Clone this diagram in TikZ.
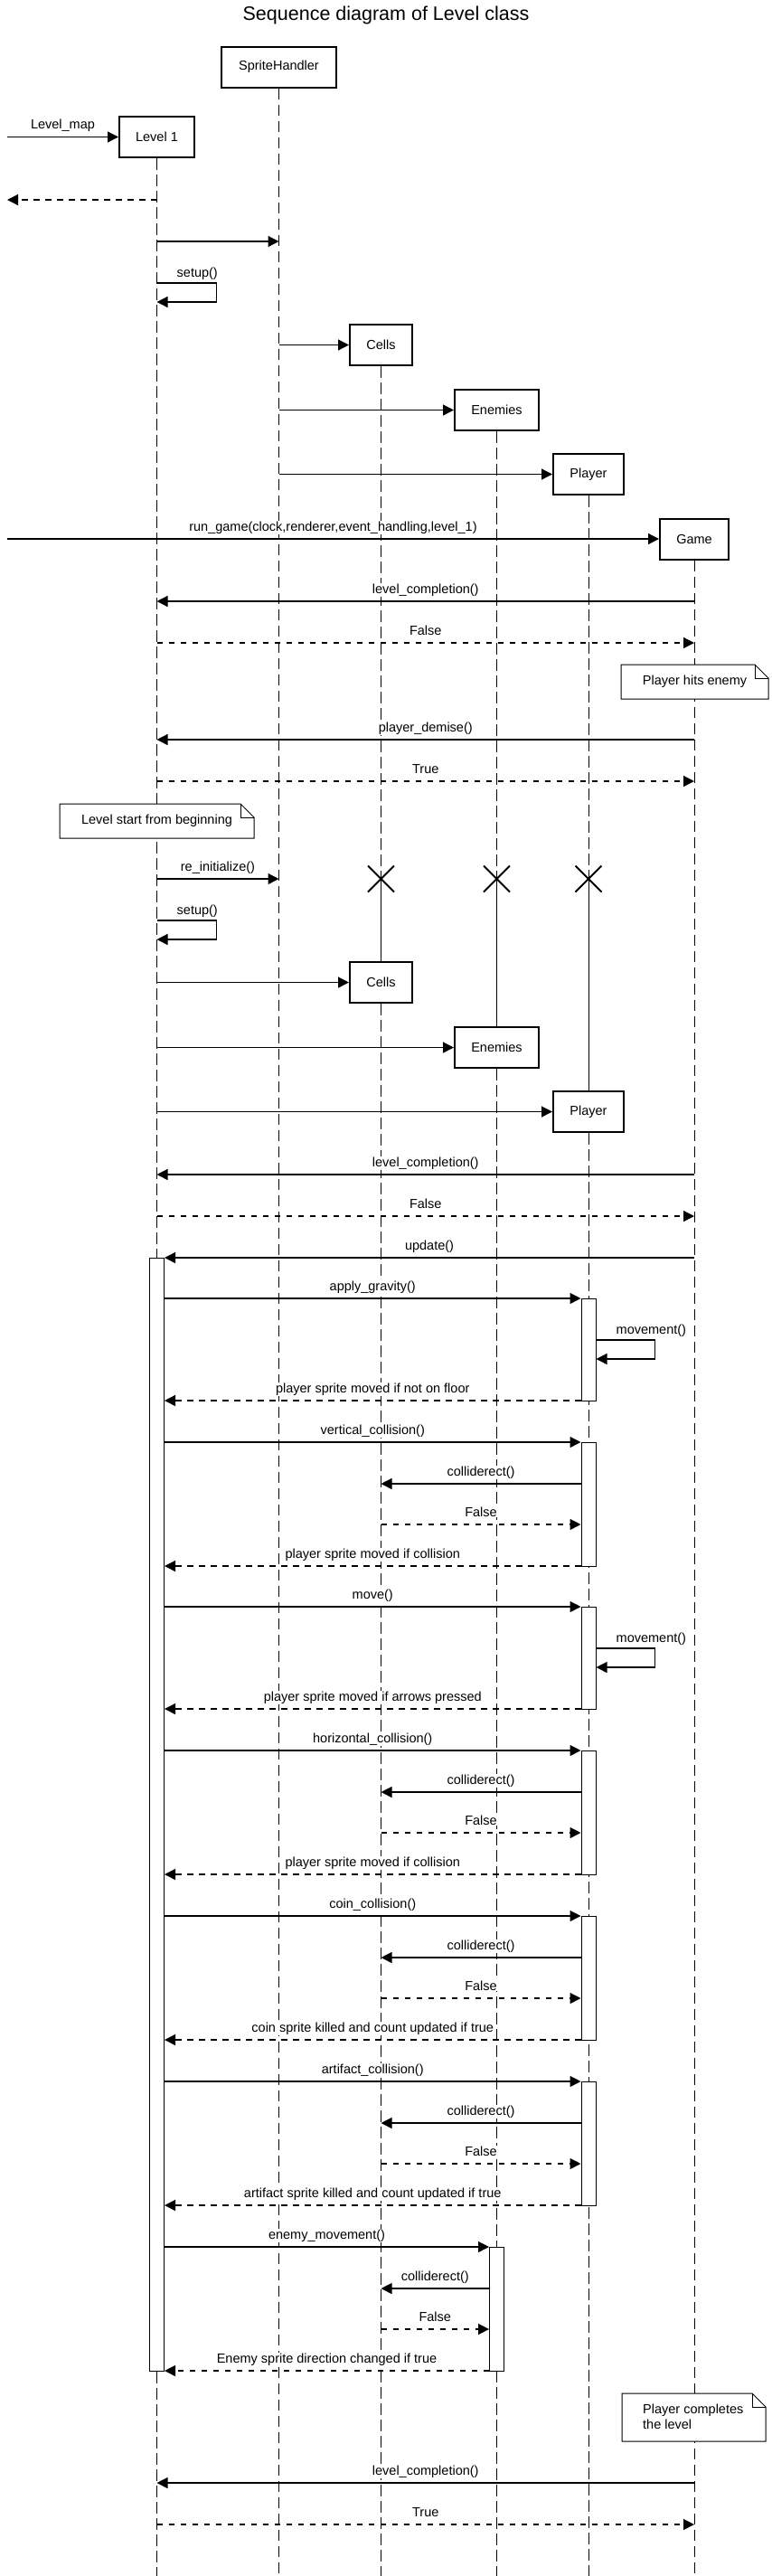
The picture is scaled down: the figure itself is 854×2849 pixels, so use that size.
\documentclass[tikz,border=0pt]{standalone}
\usepackage{fontspec}
\setmainfont{Liberation Sans}
\usetikzlibrary{arrows.meta}

\begin{document}
\begin{tikzpicture}[x=1pt,y=-1pt,
    font=\fontsize{14.5}{17}\selectfont,
    obj/.style={draw,line width=2pt,fill=white,minimum height=45pt,inner sep=0pt},
    life/.style={line width=1pt,dash pattern=on 12.5pt off 5.5pt},
    msg/.style={line width=1.3pt,-{Triangle[length=12pt,width=12pt]}},
    ret/.style={msg,dash pattern=on 6.5pt off 6.5pt},
    act/.style={draw,line width=1pt,fill=white,minimum width=16pt,inner sep=0pt},
    lbl/.style={midway,anchor=base,yshift=9pt,inner sep=1pt,fill=white},
    loopl/.style={anchor=base west,inner sep=0pt},
    note/.style={draw,line width=1pt,fill=white},
    kill/.style={line width=2pt}]
    \useasboundingbox (0,0) rectangle (854,2849);
    \coordinate (edge) at (8,0);

    % Objects %
    \node[font=\fontsize{21.5}{25}\selectfont] (title) at (427,17) {Sequence diagram of Level class};
    \node[obj,minimum width=127pt] (sprites) at (308.5,74) {SpriteHandler};
    \node[obj,minimum width=83pt] (level) at (173.5,151.5) {Level 1};
    \node[obj,minimum width=69pt] (cells) at (421.5,381.5) {Cells};
    \node[obj,minimum width=93pt] (enemies) at (549.5,453.5) {Enemies};
    \node[obj,minimum width=78pt] (player) at (651,524.5) {Player};
    \node[obj,minimum width=76pt] (game) at (768,596) {Game};
    \node[obj,minimum width=69pt] (cellsB) at (421.5,1086.5) {Cells};
    \node[obj,minimum width=93pt] (enemiesB) at (549.5,1158.5) {Enemies};
    \node[obj,minimum width=78pt] (playerB) at (651,1229.5) {Player};

    % Lifelines %
    \draw[life] (level.south) -- (level |- 0,2849);
    \draw[life] (sprites.south) -- (sprites |- 0,2849);
    \draw[life] (game.south) -- (game |- 0,2849);
    \foreach \a/\b in {cells/cellsB,enemies/enemiesB,player/playerB} {
        \draw[life] (\a.south) -- (\a |- 0,972);
        \draw[kill] (\a |- 0,972) ++(-14.5,-14.5) -- ++(29,29) ++(0,-29) -- ++(-29,29);
        \draw[line width=1pt] (\a |- 0,972) -- (\b.north);
        \draw[life] (\b.south) -- (\b |- 0,2849);
    }

    % Notes %
    \draw[note] (687,735) -- (835,735) -- (850,750) -- (850,773) -- (687,773) -- cycle;
    \draw[line width=1pt] (835,735) |- (850,750);
    \node (noteHit) at (768.5,754) {Player hits enemy};
    \draw[note] (66,889) -- (266,889) -- (281,904) -- (281,927) -- (66,927) -- cycle;
    \draw[line width=1pt] (266,889) |- (281,904);
    \node (noteRestart) at (173.5,908) {Level start from beginning};
    \draw[note] (688,2647) -- (832,2647) -- (847,2662) -- (847,2700) -- (688,2700) -- cycle;
    \draw[line width=1pt] (832,2647) |- (847,2662);
    \node[anchor=west,align=left,inner sep=0pt] (noteDone) at (711,2673) {Player completes\\the level};

    % Start of level %
    \draw[msg] (edge |- level) -- (level.west) node[lbl] {Level\_map};
    \draw[ret] (level |- 0,221) -- (edge |- 0,221);
    \draw[msg] (level |- 0,267) -- (sprites |- 0,267);
    \draw[msg] (level |- 0,313) -- ++(66,0) -- ++(0,21) -- ++(-66,0);
    \path (level |- 0,313) ++(22,-7) node[loopl] {setup()};
    \draw[msg] (sprites |- cells) -- (cells.west);
    \draw[msg] (sprites |- enemies) -- (enemies.west);
    \draw[msg] (sprites |- player) -- (player.west);
    \draw[msg] (edge |- game) -- (game.west) node[lbl] {run\_game(clock,renderer,event\_handling,level\_1)};
    \draw[msg] (game |- 0,665) -- (level |- 0,665) node[lbl] {level\_completion()};
    \draw[ret] (level |- 0,711) -- (game |- 0,711) node[lbl] {False};

    % Player dies %
    \draw[msg] (game |- 0,818) -- (level |- 0,818) node[lbl] {player\_demise()};
    \draw[ret] (level |- 0,864) -- (game |- 0,864) node[lbl] {True};
    \draw[msg] (level |- 0,972) -- (sprites |- 0,972) node[lbl] {re\_initialize()};
    \draw[msg] (level |- 0,1018) -- ++(66,0) -- ++(0,21) -- ++(-66,0);
    \path (level |- 0,1018) ++(22,-7) node[loopl] {setup()};
    \draw[msg] (level |- cellsB) -- (cellsB.west);
    \draw[msg] (level |- enemiesB) -- (enemiesB.west);
    \draw[msg] (level |- playerB) -- (playerB.west);
    \draw[msg] (game |- 0,1299) -- (level |- 0,1299) node[lbl] {level\_completion()};
    \draw[ret] (level |- 0,1345) -- (game |- 0,1345) node[lbl] {False};

    % Update loop %
    \node[act,minimum height=1231pt] (actL) at (level |- 0,2006.5) {};
    \foreach \t/\b [count=\i] in {1436/1549,1595/1732,1777/1890,1936/2073,2119/2256,2302/2439}
        \node[act,minimum height={(\b-\t)*1pt}] (actP\i) at (player |- 0,{(\t+\b)/2}) {};
    \node[act,minimum height=137pt] (actE) at (enemiesB |- 0,2553.5) {};
    \draw[msg] (game |- 0,1391) -- (actL.east |- 0,1391) node[lbl] {update()};

    \foreach \i/\t/\cname/\rname in {1/1436/apply\_gravity()/player sprite moved if not on floor,
                                    3/1777/move()/player sprite moved if arrows pressed} {
        \draw[msg] (actL.east |- 0,\t) -- (actP\i.west |- 0,\t) node[lbl] {\cname};
        \draw[msg] (actP\i.east |- 0,\t+46) -- ++(65,0) -- ++(0,21) -- ++(-65,0);
        \path (actP\i.east |- 0,\t+46) ++(22,-7) node[loopl] {movement()};
        \draw[ret] (actP\i.west |- 0,\t+113) -- (actL.east |- 0,\t+113) node[lbl] {\rname};
    }
    \foreach \i/\t/\cname/\rname in {2/1595/vertical\_collision()/player sprite moved if collision,
                                    4/1936/horizontal\_collision()/player sprite moved if collision,
                                    5/2119/coin\_collision()/coin sprite killed and count updated if true,
                                    6/2302/artifact\_collision()/artifact sprite killed and count updated if true} {
        \draw[msg] (actL.east |- 0,\t) -- (actP\i.west |- 0,\t) node[lbl] {\cname};
        \draw[msg] (actP\i.west |- 0,\t+46) -- (cellsB |- 0,\t+46) node[lbl] {colliderect()};
        \draw[ret] (cellsB |- 0,\t+91) -- (actP\i.west |- 0,\t+91) node[lbl] {False};
        \draw[ret] (actP\i.west |- 0,\t+137) -- (actL.east |- 0,\t+137) node[lbl] {\rname};
    }
    \draw[msg] (actL.east |- 0,2485) -- (actE.west |- 0,2485) node[lbl] {enemy\_movement()};
    \draw[msg] (actE.west |- 0,2531) -- (cellsB |- 0,2531) node[lbl] {colliderect()};
    \draw[ret] (cellsB |- 0,2576) -- (actE.west |- 0,2576) node[lbl] {False};
    \draw[ret] (actE.west |- 0,2622) -- (actL.east |- 0,2622) node[lbl] {Enemy sprite direction changed if true};

    % Level completed %
    \draw[msg] (game |- 0,2746) -- (level |- 0,2746) node[lbl] {level\_completion()};
    \draw[ret] (level |- 0,2792) -- (game |- 0,2792) node[lbl] {True};
\end{tikzpicture}
\end{document}
